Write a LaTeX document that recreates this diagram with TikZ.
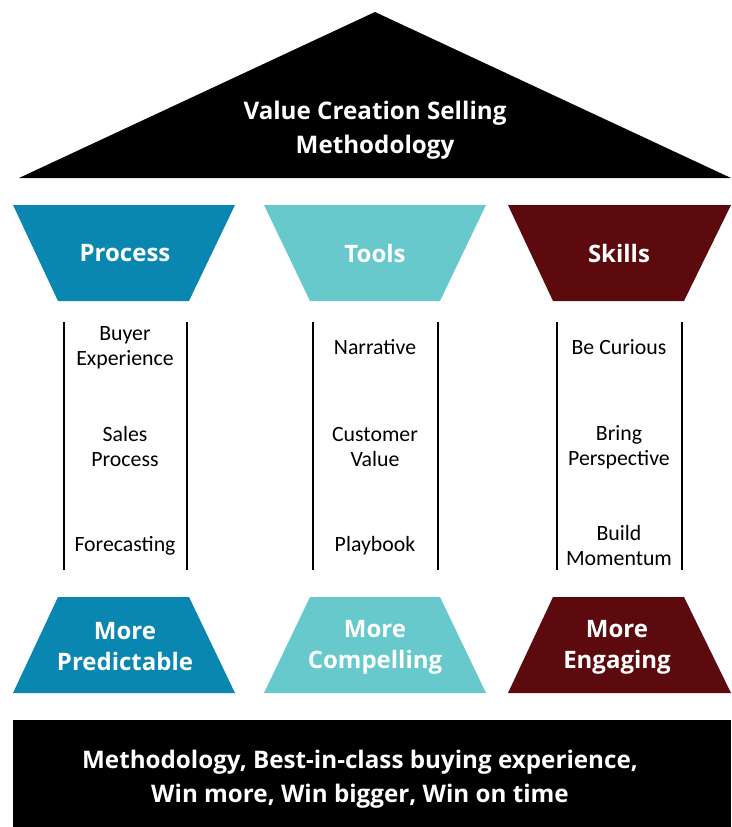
\documentclass[tikz,border=0pt]{standalone}
\usepackage{fontspec}
\setmainfont{Carlito}
\newfontfamily\headfont{Open Sans}
\usetikzlibrary{positioning}

\definecolor{procblue}{HTML}{0A87B0}
\definecolor{toolteal}{HTML}{67C9CC}
\definecolor{skillred}{HTML}{5C0A0E}

\begin{document}
\begin{tikzpicture}[x=1pt,y=-1pt]
      \tikzstyle{head}=[text=white,font=\headfont\bfseries\fontsize{24}{31}\selectfont,align=center]
      \tikzstyle{roofhead}=[text=white,font=\headfont\bfseries\fontsize{24.2}{34}\selectfont,align=center]
      \tikzstyle{item}=[text=black,font=\fontsize{21.8}{25}\selectfont,align=center]
      \tikzstyle{pillar}=[line width=2pt]

      \useasboundingbox (0,0) rectangle (731,827);

      % roof
      \fill (19,178) -- (375,12) -- (731,178) -- cycle;
      \node[roofhead] (roof) at (375,130) {Value Creation Selling\\Methodology};

      % capitals
      \fill[procblue] (13,205) -- (235,205) -- (189,301) -- (58,301) -- cycle;
      \fill[toolteal] (264,205) -- (486,205) -- (440,301) -- (310,301) -- cycle;
      \fill[skillred] (508,205) -- (731,205) -- (684,301) -- (553,301) -- cycle;
      \node[head] (process) at (125,253) {Process};
      \node[head] (tools) at (375,253) {Tools};
      \node[head] (skills) at (619,253) {Skills};

      % pillars
      \draw[pillar] (64,322) -- (64,570);
      \draw[pillar] (187,322) -- (187,570);
      \draw[pillar] (313,322) -- (313,570);
      \draw[pillar] (438,322) -- (438,570);
      \draw[pillar] (557,322) -- (557,570);
      \draw[pillar] (682,322) -- (682,570);

      \node[item] (buyer) at (125,348) {Buyer\\Experience};
      \node[item] (sales) at (125,447) {Sales\\Process};
      \node[item] (forecast) at (125,546) {Forecasting};
      \node[item] (narrative) at (375,347) {Narrative};
      \node[item] (custvalue) at (375,447) {Customer\\Value};
      \node[item] (playbook) at (375,546) {Playbook};
      \node[item] (curious) at (619,347) {Be Curious};
      \node[item] (perspective) at (619,447) {Bring\\Perspective};
      \node[item] (momentum) at (619,546) {Build\\Momentum};

      % bases
      \fill[procblue] (58,597) -- (189,597) -- (235,693) -- (13,693) -- cycle;
      \fill[toolteal] (310,597) -- (440,597) -- (486,693) -- (264,693) -- cycle;
      \fill[skillred] (553,597) -- (684,597) -- (731,693) -- (508,693) -- cycle;
      \node[head] (predictable) at (125,647) {More\\Predictable};
      \node[head] (compelling) at (375,647) {More\\Compelling};
      \node[head] (engaging) at (617,647) {More\\Engaging};

      % foundation
      \fill (13,720) rectangle (731,827);
      \node[roofhead] (found) at (360,779) {Methodology, Best-in-class buying experience,\\Win more, Win bigger, Win on time};
\end{tikzpicture}
\end{document}
